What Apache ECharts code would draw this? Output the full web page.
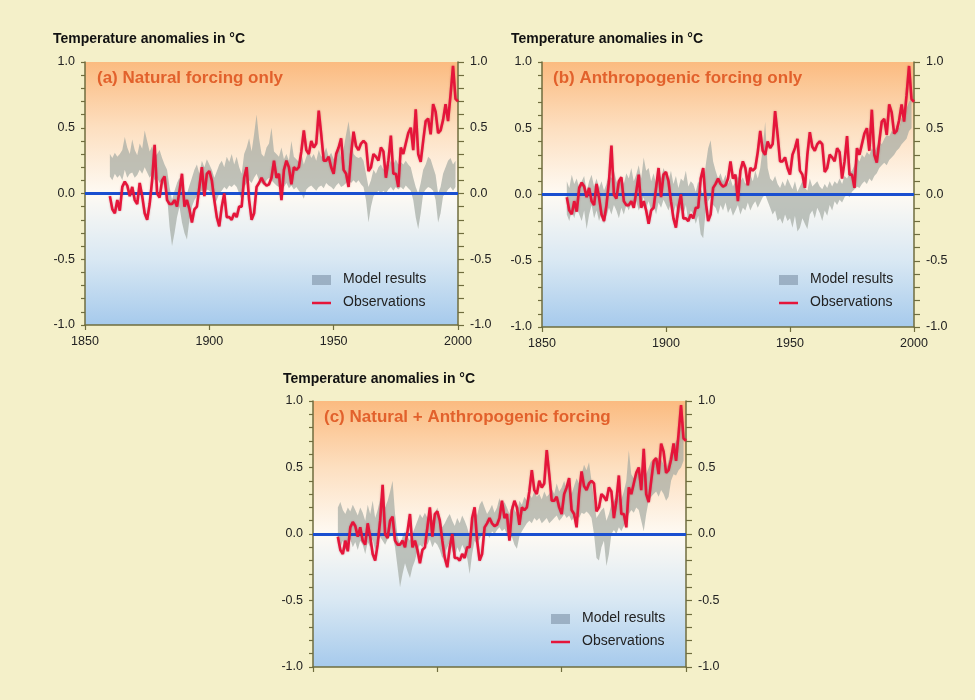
<!DOCTYPE html>
<html>
<head>
<meta charset="utf-8">
<script src="https://cdn.jsdelivr.net/npm/echarts@6/dist/echarts.min.js"></script>
<style>html,body{margin:0;padding:0;background:#f4f0c9;}#c{width:975px;height:700px;}</style>
</head>
<body>
<div id="c"></div>
<script>
// ---- data ----
const firstYear = 1860;
const axisTicksX = [1850, 1900, 1950, 2000];
const yTickLabels = ['-1.0', '-0.5', '0.0', '0.5', '1.0'];
const panelTitles = ['(a) Natural forcing only', '(b) Anthropogenic forcing only', '(c) Natural + Anthropogenic forcing'];
const axisTitle = 'Temperature anomalies in °C';
const legendNames = ['Model results', 'Observations'];

// Observations 1860-2000
const observations = [
 -0.02,-0.12,-0.15,-0.05,-0.13,0.05,0.09,0.06,-0.02,0.05,
 -0.05,-0.08,0.08,-0.02,-0.15,-0.20,-0.08,0.10,0.37,0.00,
 -0.03,0.10,0.13,-0.05,-0.08,-0.08,-0.05,-0.10,0.02,0.15,
 -0.10,-0.05,-0.12,-0.22,-0.12,-0.10,0.05,0.20,-0.02,0.15,
 0.17,0.10,-0.05,-0.18,-0.25,-0.10,0.00,-0.18,-0.18,-0.20,
 -0.15,-0.18,-0.10,-0.10,0.12,0.20,-0.05,-0.20,-0.15,0.05,
 0.08,0.12,0.08,0.06,0.07,0.12,0.25,0.12,0.15,-0.05,
 0.18,0.25,0.20,0.07,0.20,0.18,0.20,0.32,0.48,0.33,
 0.30,0.40,0.35,0.38,0.63,0.45,0.25,0.25,0.28,0.20,
 0.15,0.30,0.35,0.42,0.18,0.15,0.05,0.30,0.47,0.36,
 0.33,0.38,0.40,0.38,0.17,0.20,0.30,0.28,0.25,0.35,
 0.32,0.12,0.25,0.44,0.15,0.15,0.05,0.35,0.30,0.38,
 0.46,0.50,0.33,0.64,0.30,0.24,0.40,0.55,0.57,0.45,
 0.68,0.62,0.46,0.48,0.56,0.68,0.55,0.75,0.97,0.72,
 0.70
];

// Model ranges (lower / upper), 1860-1999
const naturalLow = [
 0.13,0.10,0.15,0.12,0.14,0.10,0.18,0.12,0.15,0.16,
 0.12,0.14,0.18,0.15,0.20,0.16,0.12,0.15,0.10,0.12,
 0.08,0.10,0.05,-0.02,-0.25,-0.40,-0.30,-0.18,-0.10,-0.22,
 -0.30,-0.35,-0.20,-0.10,-0.05,-0.02,0.00,0.02,0.00,0.03,
 0.02,0.00,-0.08,-0.05,0.00,0.02,0.05,0.03,0.06,0.05,
 0.07,0.05,0.00,-0.05,0.05,0.08,0.10,0.08,0.12,0.15,
 0.10,0.08,0.06,0.10,0.12,0.10,0.08,0.06,0.05,0.03,
 0.05,0.08,0.04,0.06,0.03,0.05,0.02,0.00,-0.04,0.03,
 0.05,0.06,0.04,0.02,0.05,0.06,0.04,0.08,0.06,0.05,
 0.03,0.06,0.08,0.05,0.06,0.08,0.10,0.08,0.10,0.08,
 0.10,0.07,0.05,-0.05,-0.22,-0.10,-0.02,0.00,0.02,0.00,
 0.02,0.00,0.03,0.05,0.02,0.05,0.03,0.05,0.03,0.06,
 0.04,0.02,-0.05,-0.18,-0.27,-0.15,0.00,0.03,0.05,0.04,
 0.02,-0.05,-0.22,-0.15,-0.02,0.00,0.03,0.05,0.02,0.05
];
const naturalHigh = [
 0.30,0.27,0.31,0.28,0.30,0.33,0.43,0.35,0.30,0.41,
 0.33,0.29,0.38,0.34,0.48,0.40,0.32,0.36,0.28,0.30,
 0.33,0.27,0.22,0.18,0.05,-0.05,0.02,0.08,0.12,0.05,
 0.02,0.00,0.06,0.12,0.18,0.22,0.15,0.25,0.20,0.26,
 0.22,0.18,0.12,0.17,0.22,0.25,0.20,0.28,0.24,0.30,
 0.22,0.28,0.20,0.15,0.30,0.35,0.42,0.32,0.45,0.60,
 0.42,0.30,0.28,0.35,0.38,0.50,0.32,0.30,0.28,0.35,
 0.26,0.30,0.25,0.40,0.28,0.26,0.24,0.30,0.22,0.28,
 0.32,0.27,0.30,0.25,0.33,0.28,0.30,0.35,0.28,0.31,
 0.26,0.30,0.38,0.27,0.34,0.45,0.55,0.40,0.30,0.28,
 0.27,0.28,0.25,0.15,0.05,0.10,0.18,0.15,0.20,0.22,
 0.18,0.22,0.20,0.25,0.22,0.26,0.22,0.24,0.22,0.25,
 0.22,0.20,0.12,0.05,0.00,0.08,0.18,0.22,0.28,0.26,
 0.20,0.14,0.00,0.05,0.15,0.20,0.25,0.27,0.22,0.25
];
const anthroLow = [
 -0.15,-0.20,-0.12,-0.18,-0.10,-0.15,-0.20,-0.12,-0.26,-0.15,
 -0.08,-0.18,-0.12,-0.20,-0.14,-0.22,-0.16,-0.10,-0.15,-0.08,
 -0.12,-0.18,-0.10,-0.15,-0.08,-0.12,-0.06,-0.10,-0.05,-0.12,
 -0.08,-0.02,-0.10,-0.05,-0.12,-0.08,-0.15,-0.06,-0.10,-0.04,
 -0.08,-0.12,-0.06,-0.14,-0.08,-0.18,-0.10,-0.15,-0.08,-0.20,
 -0.12,-0.15,-0.22,-0.16,-0.30,-0.33,-0.12,-0.05,-0.02,-0.08,
 -0.10,-0.15,-0.08,-0.12,-0.06,-0.14,-0.10,-0.16,-0.12,-0.08,
 -0.15,-0.10,-0.12,-0.06,-0.12,-0.08,-0.05,-0.10,-0.06,-0.02,
 0.00,-0.05,-0.10,-0.15,-0.12,-0.20,-0.18,-0.22,-0.15,-0.20,
 -0.18,-0.25,-0.16,-0.28,-0.25,-0.18,-0.22,-0.26,-0.15,-0.12,
 -0.18,-0.10,-0.14,-0.20,-0.12,-0.16,-0.08,-0.12,-0.05,-0.08,
 -0.04,-0.06,-0.02,0.00,-0.02,0.02,0.04,0.06,0.05,0.08,
 0.10,0.08,0.12,0.10,0.14,0.16,0.20,0.22,0.24,0.22,
 0.26,0.28,0.30,0.33,0.35,0.38,0.40,0.42,0.48,0.50
];
const anthroHigh = [
 0.10,0.05,0.15,0.08,0.12,0.05,0.10,0.14,0.02,0.10,
 0.15,0.06,0.12,0.05,0.10,0.03,0.08,0.15,0.12,0.18,
 0.10,0.06,0.14,0.08,0.16,0.12,0.20,0.10,0.15,0.22,
 0.12,0.28,0.18,0.20,0.10,0.16,0.08,0.18,0.12,0.20,
 0.15,0.10,0.18,0.08,0.14,0.05,0.12,0.10,0.18,0.06,
 0.10,0.08,0.02,0.10,0.05,0.00,0.22,0.35,0.41,0.25,
 0.18,0.12,0.16,0.10,0.15,0.08,0.12,0.06,0.10,0.14,
 0.10,0.13,0.08,0.12,0.15,0.10,0.18,0.12,0.20,0.35,
 0.55,0.20,0.12,0.10,0.14,0.08,0.05,0.10,0.06,0.12,
 0.08,0.04,0.10,0.02,0.06,0.10,0.05,0.03,0.12,0.06,
 0.08,0.10,0.06,0.04,0.08,0.05,0.10,0.06,0.10,0.08,
 0.12,0.08,0.14,0.12,0.16,0.18,0.22,0.28,0.25,0.30,
 0.28,0.32,0.30,0.35,0.32,0.36,0.40,0.38,0.42,0.45,
 0.44,0.48,0.46,0.52,0.50,0.58,0.55,0.65,0.70,0.72
];
const bothLow = [
 -0.08,-0.10,-0.05,-0.12,-0.08,-0.04,-0.10,-0.06,-0.12,-0.05,
 -0.08,-0.15,-0.06,-0.10,-0.04,-0.12,-0.06,-0.02,-0.05,-0.08,
 -0.04,-0.02,0.00,-0.10,-0.25,-0.40,-0.30,-0.22,-0.28,-0.33,
 -0.25,-0.20,-0.12,-0.08,-0.10,-0.05,-0.08,-0.04,-0.10,-0.06,
 -0.08,-0.12,-0.18,-0.15,-0.10,-0.06,-0.12,-0.18,-0.10,-0.14,
 -0.08,-0.12,-0.18,-0.30,-0.15,-0.05,-0.08,-0.04,0.00,-0.02,
 0.00,-0.03,0.02,0.00,0.03,0.05,0.02,0.04,0.00,-0.05,
 -0.02,-0.08,-0.11,-0.02,0.02,0.05,0.08,0.10,0.08,0.12,
 0.10,0.12,0.08,0.10,0.12,0.08,0.10,0.12,0.14,0.10,
 0.12,0.15,0.12,0.14,0.10,0.13,0.15,0.12,0.16,0.15,
 0.17,0.15,0.12,0.00,-0.18,-0.20,-0.10,-0.05,-0.24,-0.15,
 0.00,0.03,0.00,0.05,0.02,0.06,0.10,0.15,0.18,0.16,
 0.20,0.18,0.10,0.02,0.15,0.25,0.28,0.30,0.32,0.28,
 0.33,0.30,0.25,0.28,0.40,0.45,0.44,0.48,0.50,0.55
];
const bothHigh = [
 0.20,0.24,0.18,0.15,0.20,0.17,0.22,0.18,0.14,0.20,
 0.16,0.10,0.22,0.15,0.25,0.12,0.18,0.26,0.30,0.20,
 0.25,0.32,0.40,0.15,-0.02,-0.08,-0.02,0.02,-0.02,-0.05,
 0.00,0.05,0.10,0.15,0.12,0.16,0.12,0.18,0.10,0.15,
 0.20,0.12,0.05,0.08,0.12,0.15,0.10,0.06,0.12,0.08,
 0.14,0.10,0.05,-0.02,0.10,0.18,0.14,0.22,0.25,0.20,
 0.15,0.18,0.22,0.16,0.20,0.27,0.18,0.24,0.20,0.15,
 0.22,0.18,0.15,0.25,0.22,0.28,0.25,0.30,0.27,0.32,
 0.28,0.30,0.26,0.32,0.28,0.30,0.34,0.30,0.38,0.32,
 0.35,0.40,0.33,0.38,0.30,0.36,0.42,0.38,0.45,0.52,
 0.48,0.54,0.40,0.25,0.12,0.15,0.18,0.20,0.10,0.15,
 0.22,0.25,0.28,0.30,0.26,0.32,0.40,0.63,0.45,0.42,
 0.48,0.45,0.40,0.65,0.45,0.50,0.55,0.52,0.58,0.55,
 0.56,0.52,0.48,0.55,0.62,0.65,0.70,0.72,0.82,0.85
];
const bands = [[naturalLow, naturalHigh], [anthroLow, anthroHigh], [bothLow, bothHigh]];

// ---- layout / style ----
const grids = [
  {left: 85, top: 62, width: 373, height: 263},
  {left: 542, top: 62, width: 372, height: 265},
  {left: 313, top: 401, width: 373, height: 266}
];
const axisColor = '#6f6d3e';
const bandColor = 'rgba(160,168,160,0.68)';
const legendBandColor = 'rgba(140,160,180,0.75)';
const obsColor = '#e5153a';
const zeroColor = '#1a4fd0';
const font = 'Liberation Sans';

const chart = echarts.init(document.getElementById('c'));

const bgGradient = {
  type: 'linear', x: 0, y: 0, x2: 0, y2: 1,
  colorStops: [
    {offset: 0, color: '#fbbb80'},
    {offset: 0.25, color: '#fddfc0'},
    {offset: 0.5, color: '#fefaf3'},
    {offset: 0.75, color: '#d9e8f3'},
    {offset: 1, color: '#a6caec'}
  ]
};

function yLabel(v) {
  const r = Math.round(v * 10) / 10;
  const idx = yTickLabels.indexOf(r.toFixed(1));
  if (Math.abs(r * 2 - Math.round(r * 2)) < 1e-6 && idx >= 0) return yTickLabels[idx];
  return '';
}

const xAxis = grids.map((g, i) => ({
  gridIndex: i, type: 'value', min: axisTicksX[0], max: axisTicksX[axisTicksX.length - 1], interval: 50,
  axisLine: {show: true, onZero: false, lineStyle: {color: axisColor, width: 1.5}},
  axisTick: {show: true, length: 5, lineStyle: {color: axisColor, width: 1.2}},
  axisLabel: {show: i < 2, color: '#222', fontFamily: font, fontSize: 12.5, margin: 10,
    formatter: v => String(Math.round(v))},
  splitLine: {show: false}
}));

const yAxis = [];
grids.forEach((g, i) => {
  ['left', 'right'].forEach(pos => {
    yAxis.push({
      gridIndex: i, type: 'value', position: pos, min: -1, max: 1, interval: 0.1,
      axisLine: {show: true, onZero: false, lineStyle: {color: axisColor, width: 1.5}},
      axisTick: {show: true, length: pos === 'left' ? 4 : 6, lineStyle: {color: axisColor, width: 1.2}},
      axisLabel: {color: '#222', fontFamily: font, fontSize: 12.5, margin: pos === 'left' ? 10 : 12, formatter: yLabel},
      splitLine: {show: false}
    });
  });
});

const series = [];
grids.forEach((g, i) => {
  const [lo, hi] = bands[i];
  const bandData = lo.map((v, k) => [firstYear + k, v, hi[k]]);
  series.push({
    type: 'custom', name: legendNames[0], xAxisIndex: i, yAxisIndex: i * 2,
    clip: true, z: 2, silent: true,
    encode: {x: 0, y: [1, 2]},
    data: bandData,
    renderItem: function (params, api) {
      if (params.dataIndex !== 0) return null;
      const pts = [];
      for (let k = 0; k < bandData.length; k++) pts.push(api.coord([bandData[k][0], bandData[k][2]]));
      for (let k = bandData.length - 1; k >= 0; k--) pts.push(api.coord([bandData[k][0], bandData[k][1]]));
      return {type: 'polygon', shape: {points: pts}, style: {fill: bandColor, stroke: null}};
    }
  });
  series.push({
    type: 'line', name: legendNames[1], xAxisIndex: i, yAxisIndex: i * 2, z: 4,
    data: observations.map((v, k) => [firstYear + k, v]),
    showSymbol: false, symbol: 'none', silent: true,
    lineStyle: {color: obsColor, width: 2.6, shadowColor: 'rgba(160,0,30,0.35)', shadowBlur: 2},
    markLine: {
      silent: true, symbol: ['none', 'none'], z: 3,
      label: {show: false},
      lineStyle: {color: zeroColor, width: 3, type: 'solid'},
      data: [[{coord: [axisTicksX[0], 0]}, {coord: [axisTicksX[3], 0]}]]
    }
  });
});

const titlePos = [[53, 40], [511, 40], [283, 380]];
const panelTitlePos = [[97, 80], [553, 80], [324, 419]];
const legendPos = [[312, 280], [779, 280], [551, 619]];
const graphic = [];
grids.forEach((g, i) => {
  graphic.push({type: 'text', left: titlePos[i][0], top: titlePos[i][1] - 8,
    style: {text: axisTitle, font: 'bold 14px ' + font, fill: '#111'}});
  graphic.push({type: 'text', left: panelTitlePos[i][0], top: panelTitlePos[i][1] - 10, z: 10,
    style: {text: panelTitles[i], font: 'bold 17px ' + font, fill: '#e2612c'}});
  const [lx, ly] = legendPos[i];
  graphic.push({type: 'rect', shape: {x: lx, y: ly - 5, width: 19, height: 10}, z: 10, style: {fill: legendBandColor}});
  graphic.push({type: 'text', left: lx + 31, top: ly - 8, z: 10,
    style: {text: legendNames[0], font: '14px ' + font, fill: '#222'}});
  graphic.push({type: 'line', shape: {x1: lx, y1: ly + 23, x2: lx + 19, y2: ly + 23}, z: 10,
    style: {stroke: obsColor, lineWidth: 2.5}});
  graphic.push({type: 'text', left: lx + 31, top: ly + 15, z: 10,
    style: {text: legendNames[1], font: '14px ' + font, fill: '#222'}});
});

chart.setOption({
  backgroundColor: '#f4f0c9',
  animation: false,
  grid: grids.map(g => Object.assign({show: true, backgroundColor: bgGradient, borderWidth: 0}, g)),
  xAxis: xAxis,
  yAxis: yAxis,
  series: series,
  graphic: graphic
});
</script>
</body>
</html>
